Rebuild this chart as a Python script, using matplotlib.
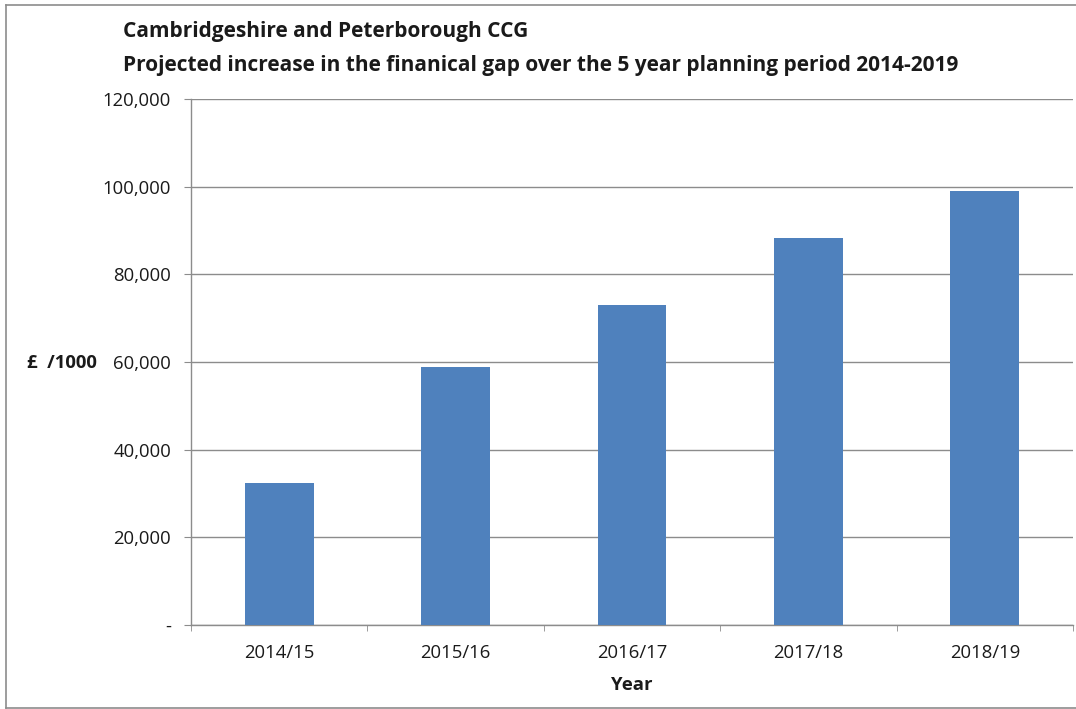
import matplotlib
matplotlib.use("Agg")
import matplotlib.pyplot as plt
from matplotlib.ticker import FuncFormatter
from matplotlib.lines import Line2D

years = ["2014/15", "2015/16", "2016/17", "2017/18", "2018/19"]
gap_thousands = [32400, 58800, 73000, 88300, 99000]
y_ticks = [0, 20000, 40000, 60000, 80000, 100000, 120000]

title_lines = ["Cambridgeshire and Peterborough CCG",
               "Projected increase in the finanical gap over the 5 year planning period 2014-2019"]

plt.rcParams["font.family"] = ["Open Sans", "DejaVu Sans"]

W, H = 1076, 709
fig = plt.figure(figsize=(W / 100, H / 100), dpi=100)
fig.patch.set_facecolor("white")

ax = fig.add_axes([191 / W, 1 - 625 / H, (1073 - 191) / W, (625 - 99) / H])

x = list(range(len(years)))
ax.bar(x, gap_thousands, width=0.39, color="#4F81BD", zorder=3)

ax.set_xlim(-0.5, len(years) - 0.5)
ax.set_ylim(0, 120000)
ax.set_yticks(y_ticks)
ax.yaxis.set_major_formatter(FuncFormatter(lambda v, p: "-" if v == 0 else f"{int(v):,}"))
ax.set_xticks(x)
ax.set_xticklabels(years)
ax.set_xticks([i - 0.5 for i in range(len(years) + 1)], minor=True)

grid_col = "#8c8c8c"
txt_col = "#1a1a1a"
lab_size = 13.3
ax.grid(axis="y", color=grid_col, linewidth=1.0, zorder=0)
for s in ["top", "right"]:
    ax.spines[s].set_visible(False)
for s in ["left", "bottom"]:
    ax.spines[s].set_color(grid_col)
    ax.spines[s].set_linewidth(1.0)

ax.tick_params(axis="y", length=5, color=grid_col, labelsize=lab_size, pad=9.4, labelcolor=txt_col)
ax.tick_params(axis="x", which="major", length=0, labelsize=lab_size, pad=13.5, labelcolor=txt_col)
ax.tick_params(axis="x", which="minor", length=4.5, color=grid_col)

ax.set_xlabel("Year", fontsize=lab_size, fontweight="bold", labelpad=10, color=txt_col)
fig.text(27 / W, 1 - 363 / H, "£  /1000", fontsize=lab_size, fontweight="bold",
         ha="left", va="center", color=txt_col)

fig.text(123 / W, 1 - 31 / H, title_lines[0], fontsize=15, fontweight="bold",
         ha="left", va="center", color=txt_col)
fig.text(123 / W, 1 - 65 / H, title_lines[1], fontsize=15, fontweight="bold",
         ha="left", va="center", color=txt_col)

# chart-area frame
frame_col = "#8c8c8c"
fig.add_artist(Line2D([6 / W, 6 / W], [1 - 5 / H, 1 - 708 / H], color=frame_col, lw=1.2))
fig.add_artist(Line2D([6 / W, 1.0], [1 - 5 / H, 1 - 5 / H], color=frame_col, lw=1.2))
fig.add_artist(Line2D([6 / W, 1.0], [1 - 708 / H, 1 - 708 / H], color=frame_col, lw=1.2))

fig.savefig("out.png", dpi=100)
